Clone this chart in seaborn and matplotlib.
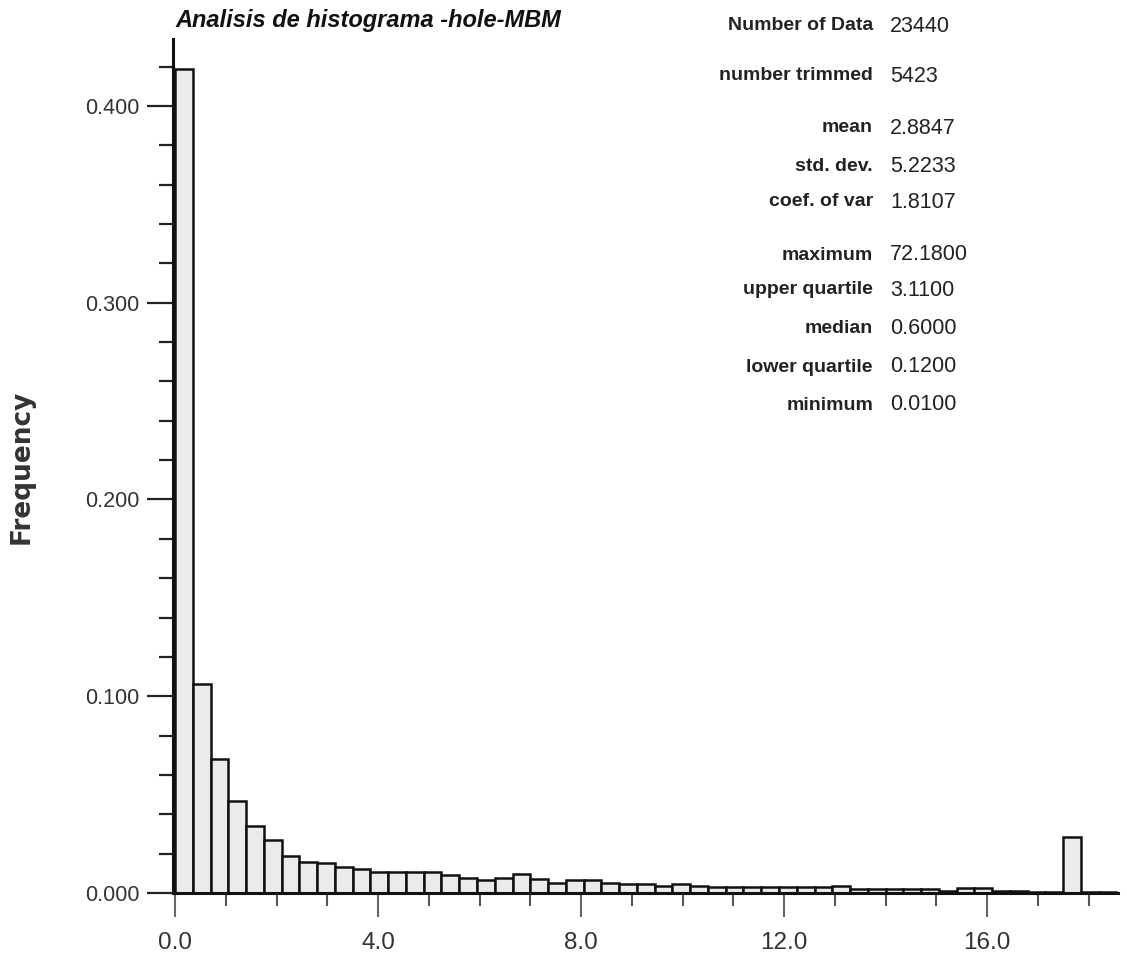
import numpy as np
import pandas as pd
import matplotlib
matplotlib.use("Agg")
import matplotlib.pyplot as plt
import seaborn as sns
from matplotlib.ticker import MultipleLocator, FormatStrFormatter

# ---------------- data ----------------
title = "Analisis de histograma -hole-MBM"
y_label = "Frequency"
bin_width = 0.35
frequency = [
    0.419, 0.106, 0.068, 0.047, 0.034, 0.027, 0.019, 0.016, 0.015, 0.013,
    0.012, 0.0105, 0.0105, 0.0105, 0.0105, 0.0093, 0.0077, 0.0068, 0.0077, 0.0097,
    0.0072, 0.0052, 0.0066, 0.0066, 0.0052, 0.0045, 0.0045, 0.0034, 0.0045, 0.0034,
    0.0028, 0.0028, 0.0028, 0.0028, 0.0028, 0.0028, 0.0030, 0.0034, 0.0018, 0.0018,
    0.0018, 0.0020, 0.0020, 0.0010, 0.0023, 0.0023, 0.0008, 0.0008, 0.0006, 0.0006,
    0.0285, 0.0006, 0.0006,
]
stat_labels = ["Number of Data", "number trimmed", "mean", "std. dev.", "coef. of var",
               "maximum", "upper quartile", "median", "lower quartile", "minimum"]
stat_values = ["23440", "5423", "2.8847", "5.2233", "1.8107",
               "72.1800", "3.1100", "0.6000", "0.1200", "0.0100"]
stat_rows_px = [26, 76, 128, 167, 202, 255, 290, 329, 367, 405]

n_bins = len(frequency)
centers = (np.arange(n_bins) + 0.5) * bin_width
df = pd.DataFrame({"value": centers, "freq": frequency})

# ---------------- style ----------------
sns.set_theme(style="ticks")
plt.rcParams["font.family"] = ["Liberation Sans", "DejaVu Sans"]

W, H = 1127, 958
fig = plt.figure(figsize=(W / 100, H / 100), dpi=100)
fig.patch.set_facecolor("white")

x0, x1 = 173, 1118
y0, y1 = 893, 39
ax = fig.add_axes([x0 / W, (H - y0) / H, (x1 - x0) / W, (y0 - y1) / H])
ax.set_facecolor("white")

sns.histplot(data=df, x="value", weights="freq", binwidth=bin_width,
             binrange=(0, n_bins * bin_width), stat="count",
             ax=ax, color="#ebebeb", edgecolor="#111111", linewidth=1.8,
             alpha=1, fill=True)

ax.set_xlim(-0.04, 18.58)
ax.set_ylim(0, 0.434)

for s in ["top", "right"]:
    ax.spines[s].set_visible(False)
for s in ["left", "bottom"]:
    ax.spines[s].set_linewidth(2.2)
    ax.spines[s].set_color("#111111")

ax.xaxis.set_major_locator(MultipleLocator(4))
ax.xaxis.set_minor_locator(MultipleLocator(1))
ax.xaxis.set_major_formatter(FormatStrFormatter("%.1f"))
ax.yaxis.set_major_locator(MultipleLocator(0.1))
ax.yaxis.set_minor_locator(MultipleLocator(0.02))
ax.yaxis.set_major_formatter(FormatStrFormatter("%.3f"))

ax.tick_params(axis="y", which="major", length=19, width=1.6, color="#222222",
               labelsize=15.5, labelcolor="#333333", pad=5)
ax.tick_params(axis="y", which="minor", length=10, width=1.6, color="#222222")
ax.tick_params(axis="x", which="major", length=17, width=1.5, color="#666666",
               labelsize=17.5, labelcolor="#333333", pad=11)
ax.tick_params(axis="x", which="minor", length=9, width=1.5, color="#555555")

ax.set_xlabel("")
ax.set_ylabel("")

fig.text(22 / W, 1 - 467 / H, y_label, rotation=90, ha="center", va="center",
         fontsize=19, fontweight="bold", color="#333333", family="DejaVu Sans")

fig.text(175 / W, 1 - 20 / H, title, ha="left", va="center", fontsize=17,
         fontweight="bold", fontstyle="italic", color="#111111")

for lab, val, ypx in zip(stat_labels, stat_values, stat_rows_px):
    fig.text(873 / W, 1 - ypx / H, lab, ha="right", va="center", fontsize=14,
             fontweight="bold", color="#222222")
    fig.text(890 / W, 1 - ypx / H, val, ha="left", va="center", fontsize=15.5,
             color="#222222")

fig.savefig("out.png", dpi=100)
